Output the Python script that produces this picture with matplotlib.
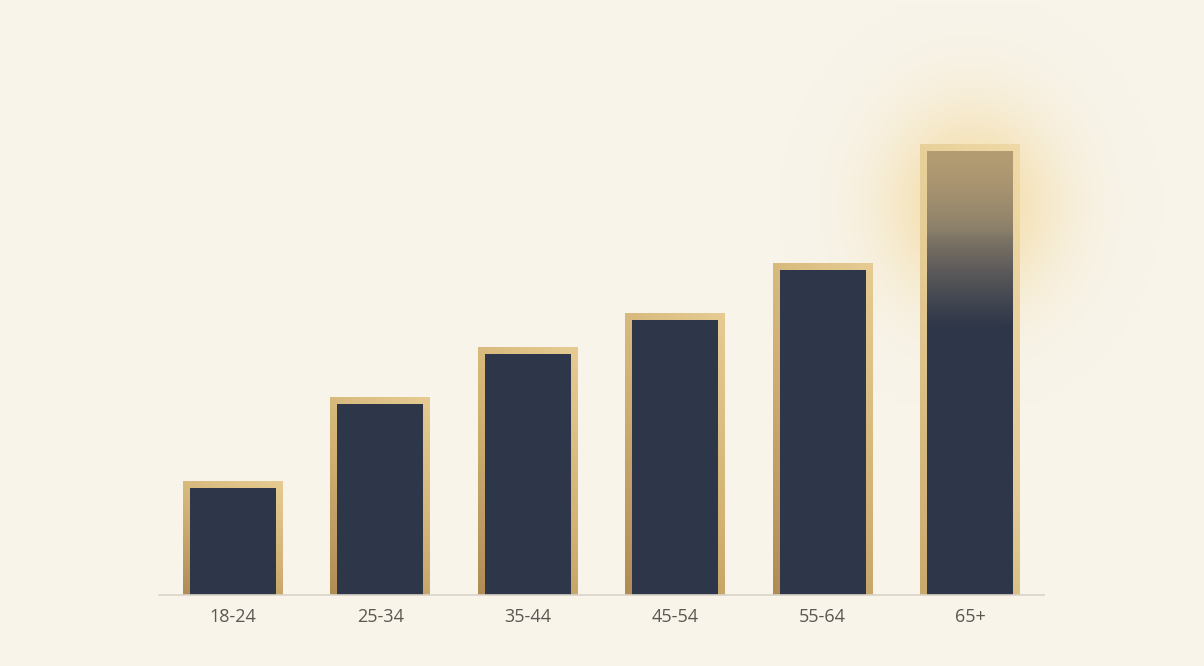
import numpy as np
import matplotlib
matplotlib.use("Agg")
import matplotlib.pyplot as plt
from matplotlib.colors import LinearSegmentedColormap, to_rgb

# ---- data ----
categories = ["18-24", "25-34", "35-44", "45-54", "55-64", "65+"]
values = [23, 40, 50, 57, 67, 91]

BG = "#f8f4ea"
NAVY = "#2e3649"

W, H, DPI = 1204, 666, 100
fig = plt.figure(figsize=(W / DPI, H / DPI), dpi=DPI, facecolor=BG)
ax_left, ax_bottom, ax_w, ax_h = 159, 71, 885, 555
ax = fig.add_axes([ax_left / W, ax_bottom / H, ax_w / W, ax_h / H])
ax.set_facecolor(BG)
YMAX = 112
XMIN, XMAX = -0.5, 5.5
px_x = ax_w / (XMAX - XMIN)   # px per x unit
px_y = ax_h / YMAX             # px per y unit

x = np.arange(len(categories))
bar_w = 100 / px_x
border_x = 7 / px_x
border_y = 7 / px_y

gold_cmap = LinearSegmentedColormap.from_list("gold", ["#b08c55", "#d2b274", "#e6cc93"])
gold_hi = LinearSegmentedColormap.from_list("goldhi", ["#c9a86c", "#e5cc95", "#efd9a6"])

# glow behind the tallest bar
last = len(values) - 1
gx0, gx1 = last - 1.3, last + 1.3
gcy = values[last] - 60 / px_y
gy0, gy1 = gcy - 200 / px_y, gcy + 200 / px_y
n = 300
gxx, gyy = np.meshgrid(np.linspace(-1, 1, n), np.linspace(-1, 1, n))
dx = gxx * (gx1 - gx0) / 2 * px_x
dy = gyy * (gy1 - gy0) / 2 * px_y
r2 = (dx / 85) ** 2 + (dy / 95) ** 2
glow = np.zeros((n, n, 4))
glow[..., :3] = to_rgb("#f2cf7e")
glow[..., 3] = 0.65 * np.exp(-r2)
ax.imshow(glow, extent=[gx0, gx1, gy0, gy1], origin="lower", aspect="auto",
          zorder=0.5, interpolation="bilinear", clip_on=False)

for i, (xi, v) in enumerate(zip(x, values)):
    outer = ax.bar(xi, v, width=bar_w, color="none", linewidth=0, zorder=2)[0]
    # gold frame gradient
    g = np.linspace(0, 1, 200)
    grad = (g[None, :] * 0.35 + g[:, None] * 0.65)
    cm = gold_hi if i == last else gold_cmap
    im = ax.imshow(grad, extent=[xi - bar_w / 2, xi + bar_w / 2, 0, v], origin="lower",
                   aspect="auto", cmap=cm, zorder=2, interpolation="bilinear")
    im.set_clip_path(outer)
    inner_w = bar_w - 2 * border_x
    inner_h = v - border_y
    if i == last:
        inner = ax.bar(xi, inner_h, width=inner_w, color="none", linewidth=0, zorder=3)[0]
        top_c = np.array(to_rgb("#b39c72"))
        mid_c = np.array(to_rgb("#8a7e6a"))
        nav = np.array(to_rgb(NAVY))
        m = 400
        ys = np.linspace(0, inner_h, m)
        depth = (inner_h - ys) * px_y  # px from top
        col = np.zeros((m, 1, 3))
        for k, d in enumerate(depth):
            if d < 80:
                c = top_c + (mid_c - top_c) * (d / 80) ** 1.5
            elif d < 175:
                t = (d - 80) / 95
                c = mid_c + (nav - mid_c) * t ** 0.8
            else:
                c = nav
            col[k, 0] = c
        im2 = ax.imshow(col, extent=[xi - inner_w / 2, xi + inner_w / 2, 0, inner_h],
                        origin="lower", aspect="auto", zorder=3, interpolation="bilinear")
        im2.set_clip_path(inner)
    else:
        ax.bar(xi, inner_h, width=inner_w, color=NAVY, linewidth=0, zorder=3)

ax.set_xlim(XMIN, XMAX)
ax.set_ylim(0, YMAX)
for s in ["top", "right", "left"]:
    ax.spines[s].set_visible(False)
ax.spines["bottom"].set_color("#d9d4c9")
ax.spines["bottom"].set_linewidth(1.2)
ax.spines["bottom"].set_zorder(4)
ax.set_yticks([])
ax.set_xticks(x)
ax.set_xticklabels(categories, fontsize=13, color="#5a5752", fontfamily=["Open Sans", "DejaVu Sans"])
ax.tick_params(axis="x", length=0, pad=9)

fig.savefig("out.png", dpi=DPI, facecolor=BG)
